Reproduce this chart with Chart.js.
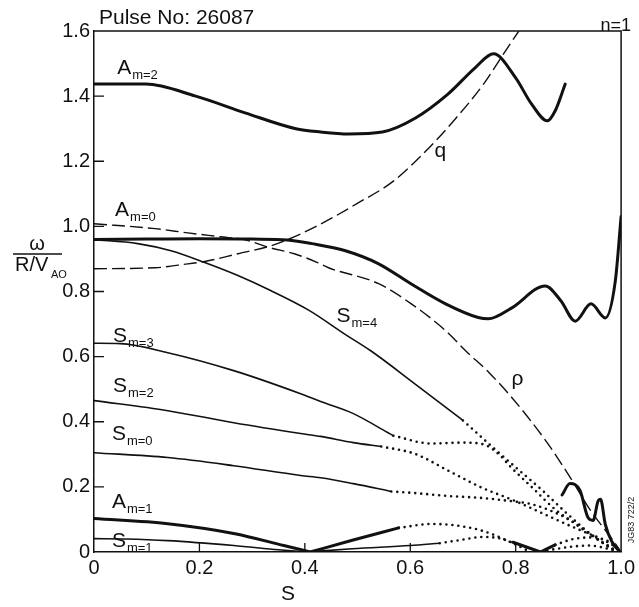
<!DOCTYPE html>
<html>
<head>
<meta charset="utf-8">
<title>Pulse No: 26087</title>
<script src="https://cdn.jsdelivr.net/npm/chart.js@4.4.1/dist/chart.umd.min.js"></script>
<style>
  html, body { margin: 0; padding: 0; background: #fff; }
</style>
</head>
<body>
<canvas id="chart" width="639" height="607"></canvas>
<script>
// axis ticks
const xTicks = [0, 0.2, 0.4, 0.6, 0.8, 1.0];
const yTicks = [0, 0.2, 0.4, 0.6, 0.8, 1.0, 1.2, 1.4, 1.6];

// curves as [S, omega/(R/V_AO)]
const aM2 = [[0, 1.437], [0.098, 1.437], [0.193, 1.40], [0.288, 1.348], [0.383, 1.30], [0.43, 1.29],
  [0.483, 1.284], [0.547, 1.29], [0.61, 1.333], [0.672, 1.407], [0.723, 1.487], [0.758, 1.53],
  [0.8, 1.456], [0.83, 1.376], [0.86, 1.324], [0.875, 1.355], [0.894, 1.437]];

const qProfile = [[0, 0.87], [0.116, 0.873], [0.178, 0.885], [0.21, 0.892], [0.273, 0.916], [0.335, 0.94],
  [0.367, 0.959], [0.424, 1.002], [0.498, 1.069], [0.568, 1.139], [0.63, 1.232], [0.687, 1.333],
  [0.739, 1.437], [0.777, 1.53], [0.806, 1.6]];

const aM0 = [[0, 1.008], [0.116, 0.993], [0.178, 0.98], [0.24, 0.968], [0.286, 0.959], [0.335, 0.934],
  [0.38, 0.916], [0.424, 0.889], [0.445, 0.873], [0.54, 0.824], [0.602, 0.762], [0.667, 0.68],
  [0.705, 0.618], [0.75, 0.55], [0.795, 0.47], [0.86, 0.335], [0.903, 0.23], [0.941, 0.13],
  [0.985, 0.035], [1.0, 0]];

const thickUpper = [[0, 0.96], [0.1, 0.961], [0.2, 0.962], [0.3, 0.961], [0.367, 0.958], [0.413, 0.947],
  [0.477, 0.925], [0.54, 0.885], [0.602, 0.823], [0.667, 0.762], [0.729, 0.72], [0.748, 0.716],
  [0.792, 0.749], [0.856, 0.817], [0.886, 0.771], [0.913, 0.709], [0.943, 0.762], [0.97, 0.719],
  [0.989, 0.832], [1.0, 1.03]];

const sM4 = [[0, 0.959], [0.083, 0.947], [0.146, 0.925], [0.21, 0.889], [0.273, 0.849], [0.335, 0.803],
  [0.408, 0.742], [0.475, 0.67], [0.525, 0.618], [0.61, 0.515], [0.70, 0.404]];
const sM4Dots = [[0.70, 0.404], [0.754, 0.325], [0.80, 0.26], [0.85, 0.19], [0.896, 0.12], [0.934, 0.066],
  [0.985, 0.005]];

const sM3 = [[0, 0.641], [0.05, 0.64], [0.14, 0.612], [0.265, 0.557], [0.392, 0.486], [0.43, 0.462],
  [0.492, 0.425], [0.557, 0.367], [0.568, 0.357]];
const sM3Dots = [[0.568, 0.357], [0.64, 0.333], [0.70, 0.336], [0.74, 0.33], [0.77, 0.297], [0.79, 0.262],
  [0.832, 0.197], [0.877, 0.128], [0.915, 0.086], [0.958, 0.036], [0.99, 0.002]];

const sM2 = [[0, 0.465], [0.14, 0.434], [0.265, 0.397], [0.392, 0.364], [0.43, 0.355], [0.492, 0.336],
  [0.545, 0.324]];
const sM2Dots = [[0.545, 0.324], [0.608, 0.302], [0.672, 0.25], [0.735, 0.198], [0.797, 0.158],
  [0.86, 0.112], [0.924, 0.066], [0.987, 0.026]];

const sM0 = [[0, 0.305], [0.14, 0.29], [0.265, 0.265], [0.392, 0.235], [0.43, 0.228], [0.492, 0.21],
  [0.564, 0.186]];
const sM0Dots = [[0.564, 0.186], [0.608, 0.181], [0.672, 0.172], [0.735, 0.166], [0.797, 0.155],
  [0.83, 0.147], [0.896, 0.104], [0.94, 0.055], [0.99, 0.005]];

const aM1Left = [[0, 0.103], [0.14, 0.087], [0.265, 0.057], [0.36, 0.02], [0.41, 0]];
const aM1Right = [[0.41, 0], [0.49, 0.036], [0.578, 0.074]];
const aM1Dots = [[0.578, 0.074], [0.64, 0.086], [0.684, 0.082], [0.735, 0.066], [0.784, 0.035], [0.822, 0.005]];
const cuspLeft = [[0.795, 0.03], [0.847, 0]];
const cuspRight = [[0.847, 0], [0.875, 0.022]];
const edgeWiggle = [[0.888, 0.175], [0.903, 0.21], [0.922, 0.189], [0.9375, 0.105], [0.947, 0.097],
  [0.956, 0.155], [0.961, 0.162], [0.97, 0.085], [0.983, 0.03], [0.995, 0.005]];
const edgeDotsA = [[0.875, 0.022], [0.91, 0.04], [0.95, 0.045], [0.98, 0.025], [1.0, 0.005]];
const edgeDotsB = [[0.86, 0.005], [0.9, 0.015], [0.94, 0.02], [0.975, 0.01], [1.0, 0]];

const sM1Left = [[0, 0.041], [0.06, 0.04], [0.14, 0.035], [0.265, 0.02], [0.35, 0.007], [0.405, 0]];
const sM1Right = [[0.405, 0], [0.49, 0.01], [0.6, 0.02], [0.656, 0.027]];
const sM1Dots = [[0.656, 0.027], [0.70, 0.038], [0.735, 0.046], [0.77, 0.042], [0.795, 0.028]];

// curve names placed next to the lines (data coordinates of the text baseline)
const curveLabels = [
  { main: 'A', sub: 'm=2', s: 0.044, w: 1.468 },
  { main: 'A', sub: 'm=0', s: 0.040, w: 1.031 },
  { main: 'S', sub: 'm=3', s: 0.036, w: 0.646 },
  { main: 'S', sub: 'm=2', s: 0.036, w: 0.492 },
  { main: 'S', sub: 'm=0', s: 0.034, w: 0.345 },
  { main: 'A', sub: 'm=1', s: 0.034, w: 0.135 },
  { main: 'S', sub: 'm=1', s: 0.034, w: 0.015 },
  { main: 'S', sub: 'm=4', s: 0.46, w: 0.705 },
  { main: 'q', sub: '', s: 0.646, w: 1.212 },
  { main: 'ρ', sub: '', s: 0.792, w: 0.514 }
];

const FONT = '"Liberation Sans", Arial, Helvetica, sans-serif';
const INK = '#111';

const lineKinds = {
  thick: { borderWidth: 3, borderCapStyle: 'round' },
  thin: { borderWidth: 1.6 },
  dash: { borderWidth: 1.4, borderDash: [13, 5] },
  dot: { borderWidth: 2.6, borderDash: [0, 6], borderCapStyle: 'round' }
};

function series(label, pts, kind) {
  return Object.assign({
    label: label,
    data: pts.map(p => ({ x: p[0], y: p[1] })),
    borderColor: INK,
    pointRadius: 0,
    fill: false,
    cubicInterpolationMode: 'monotone',
    borderJoinStyle: 'round'
  }, lineKinds[kind]);
}

// frame, inward tick marks and all the free text
const decorations = {
  id: 'decorations',
  afterDraw(chart) {
    const ctx = chart.ctx;
    const a = chart.chartArea;
    const xs = chart.scales.x, ys = chart.scales.y;
    ctx.save();
    ctx.strokeStyle = INK;
    ctx.lineWidth = 1.5;
    ctx.beginPath();
    ctx.moveTo(a.left, a.top);
    ctx.lineTo(a.right, a.top);
    ctx.lineTo(a.right, a.bottom);
    ctx.stroke();

    ctx.lineWidth = 1.3;
    ctx.beginPath();
    xTicks.slice(1, -1).forEach(v => {
      const px = xs.getPixelForValue(v);
      ctx.moveTo(px, a.bottom);
      ctx.lineTo(px, a.bottom - 9);
    });
    yTicks.slice(1, -1).forEach(v => {
      const py = ys.getPixelForValue(v);
      ctx.moveTo(a.left, py);
      ctx.lineTo(a.left + 10, py);
    });
    ctx.stroke();

    ctx.fillStyle = INK;
    ctx.textBaseline = 'alphabetic';
    ctx.textAlign = 'left';
    curveLabels.forEach(l => {
      const px = xs.getPixelForValue(l.s);
      const py = ys.getPixelForValue(l.w);
      ctx.font = '21px ' + FONT;
      ctx.fillText(l.main, px, py);
      if (l.sub) {
        const w = ctx.measureText(l.main).width;
        ctx.font = '13px ' + FONT;
        ctx.fillText(l.sub, px + w + 1, py + 5);
      }
    });

    // header texts
    ctx.font = '21px ' + FONT;
    ctx.fillText('Pulse No: 26087', 99, 24);
    ctx.font = '18px ' + FONT;
    ctx.textAlign = 'right';
    ctx.fillText('n=1', 631, 31);

    // axis titles
    ctx.textAlign = 'center';
    ctx.font = '21px ' + FONT;
    ctx.fillText('S', 288, 600);

    ctx.font = '20px ' + FONT;
    ctx.fillText('ω', 37, 250);
    ctx.lineWidth = 1.3;
    ctx.beginPath();
    ctx.moveTo(13, 254);
    ctx.lineTo(62, 254);
    ctx.stroke();
    ctx.textAlign = 'left';
    ctx.font = '20px ' + FONT;
    ctx.fillText('R/V', 15, 271);
    ctx.font = '11px ' + FONT;
    ctx.fillText('AO', 51, 278);

    // plate number along the right edge
    ctx.translate(631, 520);
    ctx.rotate(-Math.PI / 2);
    ctx.textAlign = 'center';
    ctx.font = '9px ' + FONT;
    ctx.fillText('JG83 722/2', 0, 3);
    ctx.restore();
  }
};

const fmt = v => (Math.abs(v) < 1e-9 ? '0' : v.toFixed(1));

new Chart(document.getElementById('chart').getContext('2d'), {
  type: 'line',
  data: {
    datasets: [
      series('A m=2', aM2, 'thick'),
      series('q', qProfile, 'dash'),
      series('A m=0 / ρ', aM0, 'dash'),
      series('upper thick', thickUpper, 'thick'),
      series('S m=4', sM4, 'thin'),
      series('S m=4 dotted', sM4Dots, 'dot'),
      series('S m=3', sM3, 'thin'),
      series('S m=3 dotted', sM3Dots, 'dot'),
      series('S m=2', sM2, 'thin'),
      series('S m=2 dotted', sM2Dots, 'dot'),
      series('S m=0', sM0, 'thin'),
      series('S m=0 dotted', sM0Dots, 'dot'),
      series('A m=1', aM1Left, 'thick'),
      series('A m=1 right', aM1Right, 'thick'),
      series('A m=1 dotted', aM1Dots, 'dot'),
      series('cusp left', cuspLeft, 'thick'),
      series('cusp right', cuspRight, 'thick'),
      series('edge wiggle', edgeWiggle, 'thick'),
      series('edge dots a', edgeDotsA, 'dot'),
      series('edge dots b', edgeDotsB, 'dot'),
      series('S m=1', sM1Left, 'thin'),
      series('S m=1 right', sM1Right, 'thin'),
      series('S m=1 dotted', sM1Dots, 'dot')
    ]
  },
  options: {
    responsive: false,
    animation: false,
    devicePixelRatio: 1,
    layout: { padding: { left: 0, right: 17, top: 31, bottom: 0 } },
    plugins: {
      legend: { display: false },
      tooltip: { enabled: false }
    },
    scales: {
      x: {
        type: 'linear',
        min: 0,
        max: 1,
        afterBuildTicks: s => { s.ticks = xTicks.map(v => ({ value: v })); },
        afterFit: s => { s.height = 55; },
        grid: { display: false, drawTicks: false },
        border: { display: true, color: INK, width: 1.5 },
        ticks: {
          color: INK,
          padding: 4,
          maxRotation: 0,
          font: { family: FONT, size: 20 },
          callback: fmt
        }
      },
      y: {
        min: 0,
        max: 1.6,
        afterBuildTicks: s => { s.ticks = yTicks.map(v => ({ value: v })); },
        afterFit: s => { s.width = 94; },
        grid: { display: false, drawTicks: false },
        border: { display: true, color: INK, width: 1.5 },
        ticks: {
          color: INK,
          padding: 4,
          font: { family: FONT, size: 20 },
          callback: fmt
        }
      }
    }
  },
  plugins: [decorations]
});
</script>
</body>
</html>
